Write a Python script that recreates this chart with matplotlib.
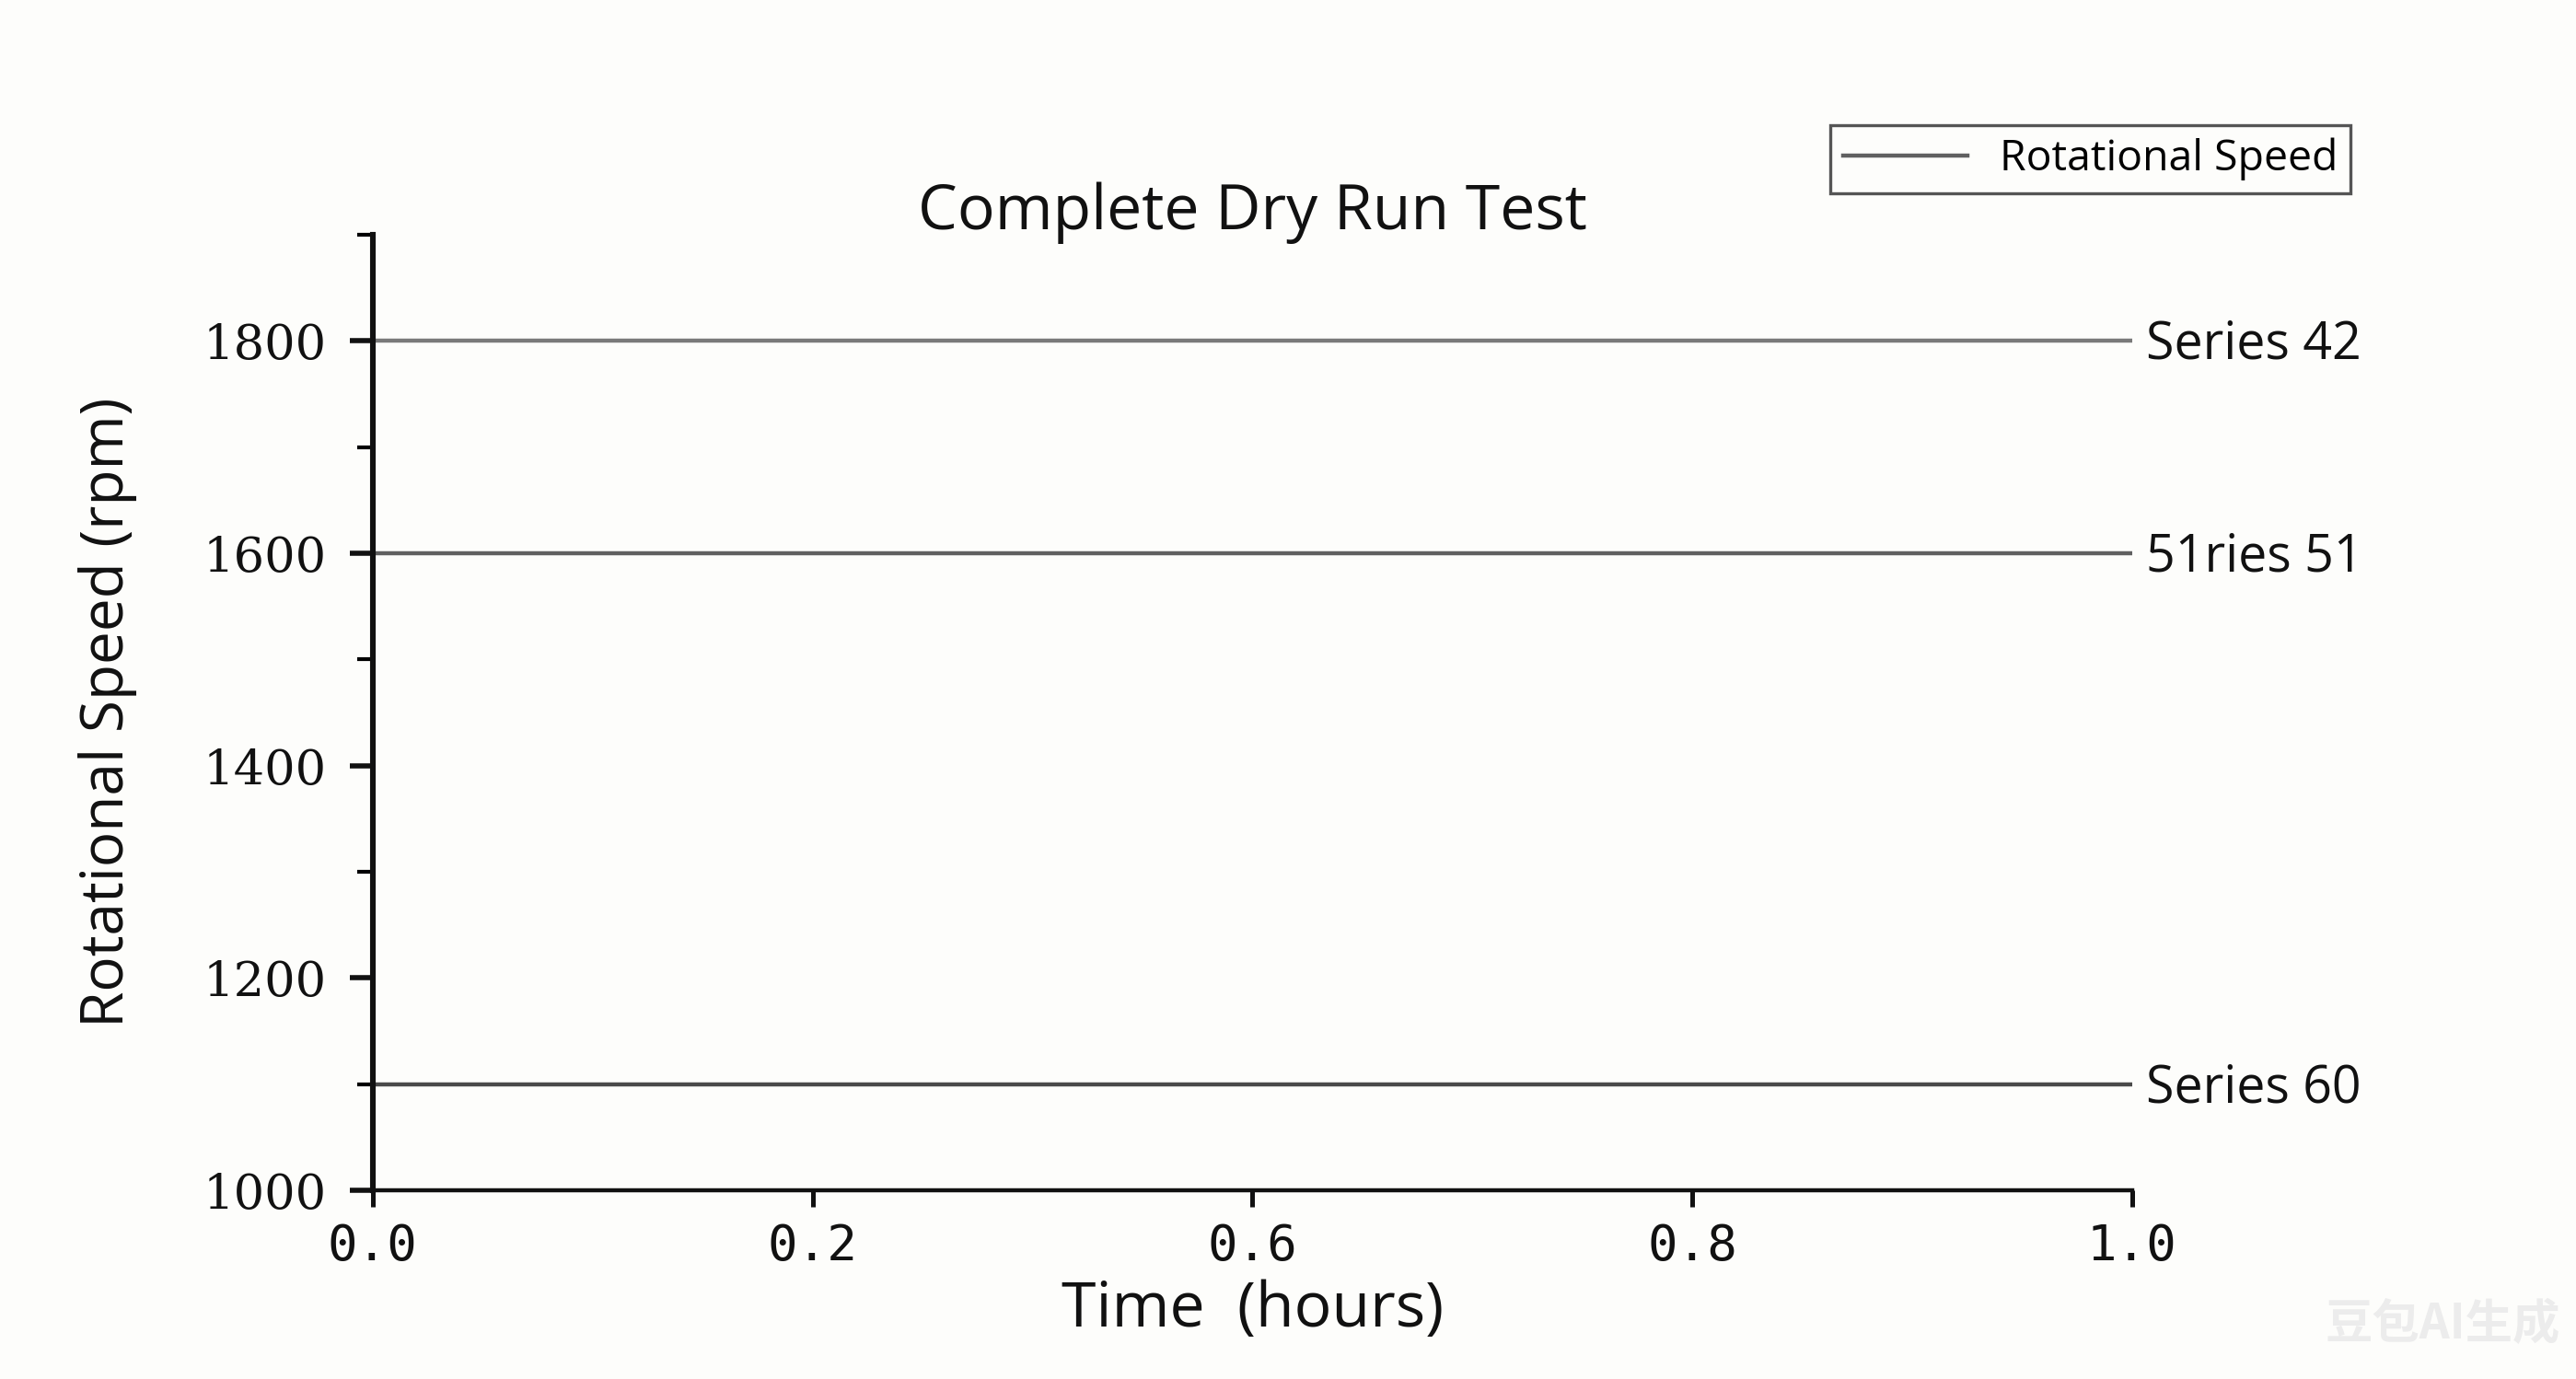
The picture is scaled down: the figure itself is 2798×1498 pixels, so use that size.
import matplotlib

matplotlib.use("Agg")
import matplotlib.pyplot as plt
import matplotlib.transforms as mtransforms
import numpy as np
from matplotlib.ticker import FixedLocator

# data
time_h = [0.0, 1.0]
series_names = ["Series 42", "51ries 51", "Series 60"]
series_levels = [1800, 1600, 1100]
series_colors = ["#7a7a7a", "#606060", "#4a4a4a"]
xtick_pos = [0.0, 0.25, 0.5, 0.75, 1.0]
xtick_labels = ["0.0", "0.2", "0.6", "0.8", "1.0"]
ytick_major = [1000, 1200, 1400, 1600, 1800]
ytick_minor = [1100, 1300, 1500, 1700, 1900]

SANS = ["Open Sans", "DejaVu Sans"]

fig = plt.figure(figsize=(13.99, 7.49), dpi=200)
fig.patch.set_facecolor("#fdfdfb")
ax = fig.add_axes([0.1447, 0.1368, 0.8277 - 0.1447, 0.8298 - 0.1368])
ax.set_facecolor("#fdfdfb")

# end labels sit a touch below the line centre
label_tf = mtransforms.offset_copy(ax.get_yaxis_transform(), fig=fig, x=0, y=-1.8, units="points")
for i, (name, level, color) in enumerate(zip(series_names, series_levels, series_colors)):
    ax.plot(time_h, [level, level], color=color, lw=1.6,
            label="Rotational Speed" if i == 1 else None)
    ax.text(1.008, level, name, transform=label_tf, ha="left",
            va="center", fontsize=20, family=SANS, color="#111111")

ax.set_xlim(0, 1.0)
ax.set_ylim(1000, 1900)
ax.set_xticks(xtick_pos, xtick_labels)
ax.set_yticks(ytick_major)
ax.yaxis.set_minor_locator(FixedLocator(ytick_minor))

for side in ("top", "right"):
    ax.spines[side].set_visible(False)
ax.spines["left"].set_linewidth(2.2)
ax.spines["bottom"].set_linewidth(1.6)
ax.spines["left"].set_color("#111111")
ax.spines["bottom"].set_color("#111111")

ax.tick_params(axis="x", direction="out", length=6.5, width=1.8, pad=6,
               labelsize=19.5, colors="#111111")
ax.tick_params(axis="y", which="major", direction="out", length=9, width=2.0,
               pad=9, labelsize=19, colors="#111111")
ax.tick_params(axis="y", which="minor", direction="out", length=6, width=1.5)
for lbl in ax.get_yticklabels():
    lbl.set_family("DejaVu Serif")
for lbl in ax.get_xticklabels():
    lbl.set_family("DejaVu Sans Mono")

ax.set_title("Complete Dry Run Test", fontsize=24.5, family=SANS, y=1.0, pad=2,
             color="#111111")
ax.set_xlabel("Time  (hours)", fontsize=24.5, family=SANS, labelpad=3.5, color="#111111")
ax.set_ylabel("Rotational Speed (rpm)", fontsize=23, family=SANS, labelpad=26, color="#111111")

leg = ax.legend(loc="upper right", bbox_to_anchor=(1.124, 1.1146),
                prop={"family": SANS, "size": 16.7}, frameon=True, fancybox=False,
                handlelength=2.9, handletextpad=0.75, borderpad=0.3, borderaxespad=0)
leg.get_frame().set_edgecolor("#555555")
leg.get_frame().set_linewidth(1.2)
leg.get_frame().set_facecolor("#fdfdfb")
leg.get_frame().set_alpha(1)

# faint watermark in the bottom-right corner
fig.text(0.994, 0.022, "豆包AI生成", ha="right", va="bottom", fontsize=18.5,
         family=["Noto Sans CJK SC", "DejaVu Sans"], fontweight="bold", color="#ececec")

fig.savefig("out.png", dpi=200, facecolor=fig.get_facecolor())
